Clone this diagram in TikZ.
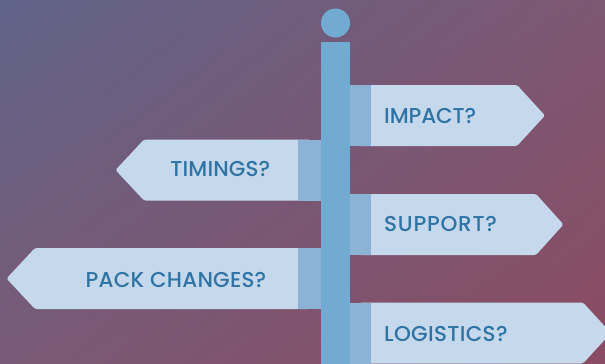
\documentclass[tikz,border=0pt]{standalone}
\usepackage{fontspec}
\usetikzlibrary{shadings}
\setmainfont{Poppins Medium}
\definecolor{signc}{HTML}{C5D8EC}
\definecolor{bandc}{HTML}{8CB3D5}
\definecolor{polec}{HTML}{72AAD2}
\definecolor{textc}{HTML}{2F74A5}
\definecolor{bgtl}{HTML}{5F6388}
\definecolor{bgtr}{HTML}{7E5772}
\definecolor{bgbl}{HTML}{795A76}
\definecolor{bgbr}{HTML}{8A4B62}
\newcommand{\spaced}[1]{\addfontfeature{LetterSpace=#1}}
\tikzset{
  signshape/.style={fill=signc,rounded corners=1.6pt},
  bandshape/.style={fill=bandc},
  poleshape/.style={fill=polec},
  signtext/.style={text=textc,font=\fontsize{21.5}{24}\selectfont,inner sep=0pt}
}
\begin{document}
\begin{tikzpicture}[x=1pt,y=-1pt]
\useasboundingbox (0,0) rectangle (605,364);
\shade[upper left=bgtl,upper right=bgtr,lower left=bgbl,lower right=bgbr] (0,0) rectangle (605,364);
% right signs
\fill[signshape] (360,85) -- (517,85) -- (545,115.5) -- (517,146) -- (360,146) -- cycle;
\fill[signshape] (360,194) -- (536,194) -- (563.5,224.5) -- (536,255) -- (360,255) -- cycle;
\fill[signshape] (360,302.5) -- (583,302.5) -- (611,333) -- (583,363.5) -- (360,363.5) -- cycle;
\fill[bandshape] (349,85) rectangle (371,146);
\fill[bandshape] (349,194) rectangle (371,255);
\fill[bandshape] (349,302.5) rectangle (371,363.5);
% left signs
\fill[signshape] (310,139.5) -- (144,139.5) -- (115.5,170) -- (144,200.5) -- (310,200.5) -- cycle;
\fill[signshape] (310,248) -- (35,248) -- (6.5,278.5) -- (35,309) -- (310,309) -- cycle;
\fill[bandshape] (298,139.5) rectangle (321,200.5);
\fill[bandshape] (298,248) rectangle (321,309);
% pole
\fill[poleshape] (321,42) rectangle (349.5,364);
\fill[poleshape] (335.5,23) circle (14.5);
% labels
\node[signtext,anchor=base west] (impact) at (384,123) {\spaced{-0.5}IMPACT?};
\node[signtext,anchor=base east] (timings) at (270.5,176) {\spaced{0.5}TIMINGS?};
\node[signtext,anchor=base west] (support) at (384,231) {\spaced{3.5}SUPPORT?};
\node[signtext,anchor=base east] (pack) at (266.5,287) {\spaced{1}PACK CHANGES?};
\node[signtext,anchor=base west] (logistics) at (384,341) {\spaced{1.4}LOGISTICS?};
\end{tikzpicture}
\end{document}
